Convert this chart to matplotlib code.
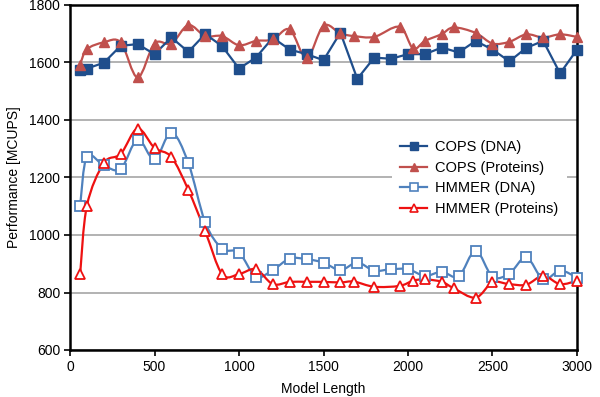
import numpy as np
import matplotlib
matplotlib.use("Agg")
import matplotlib.pyplot as plt
from matplotlib.path import Path
from matplotlib.patches import PathPatch
from matplotlib.lines import Line2D

plt.rcParams['font.family'] = ['Liberation Sans', 'DejaVu Sans']

# ---- data ----
x_dna = [60, 100, 200, 300, 400, 500, 600, 700, 800, 900, 1000, 1100, 1200, 1300, 1400, 1500,
         1600, 1700, 1800, 1900, 2000, 2100, 2200, 2300, 2400, 2500, 2600, 2700, 2800, 2900, 3000]
x_prot = [60, 100, 200, 300, 400, 500, 600, 700, 800, 900, 1000, 1100, 1200, 1300, 1400, 1500,
          1600, 1680, 1800, 1950, 2030, 2100, 2200, 2270, 2400, 2500, 2600, 2700, 2800, 2900, 3000]

cops_dna = [1573, 1579, 1599, 1658, 1664, 1629, 1687, 1637, 1699, 1657, 1579, 1617, 1686, 1645, 1629, 1608,
            1704, 1543, 1617, 1613, 1629, 1629, 1652, 1635, 1675, 1645, 1604, 1651, 1675, 1562, 1645]
cops_prot = [1593, 1646, 1670, 1670, 1548, 1666, 1666, 1730, 1692, 1692, 1660, 1675, 1680, 1715, 1616, 1728,
             1701, 1692, 1689, 1724, 1649, 1675, 1699, 1722, 1703, 1666, 1672, 1698, 1687, 1698, 1689]
hmmer_dna = [1102, 1273, 1242, 1230, 1332, 1263, 1356, 1251, 1044, 953, 939, 855, 878, 918, 916, 904,
             878, 904, 876, 881, 881, 858, 872, 856, 945, 855, 866, 922, 846, 876, 852]
hmmer_prot = [864, 1102, 1250, 1282, 1370, 1303, 1271, 1157, 1013, 864, 864, 881, 829, 837, 837, 837,
              835, 838, 820, 823, 841, 846, 837, 815, 782, 835, 829, 827, 858, 829, 841]

labels = ["COPS (DNA)", "COPS (Proteins)", "HMMER (DNA)", "HMMER (Proteins)"]
xticks = [0, 500, 1000, 1500, 2000, 2500, 3000]
yticks = [600, 800, 1000, 1200, 1400, 1600, 1800]

c_cops_dna = "#1F4E8C"
c_cops_prot = "#C0504D"
c_hmmer_dna = "#4F81BD"
c_hmmer_prot = "#EE1111"


def smooth_path(ax, x, y, color, lw):
    x = np.asarray(x, float)
    y = np.asarray(y, float)
    pts = np.column_stack([x, y])
    n = len(pts)
    verts = [pts[0]]
    codes = [Path.MOVETO]
    for i in range(n - 1):
        p0 = pts[i - 1] if i > 0 else pts[i]
        p1 = pts[i]
        p2 = pts[i + 1]
        p3 = pts[i + 2] if i + 2 < n else pts[i + 1]
        c1 = p1 + (p2 - p0) / 6.0
        c2 = p2 - (p3 - p1) / 6.0
        verts += [c1, c2, p2]
        codes += [Path.CURVE4] * 3
    patch = PathPatch(Path(verts, codes), facecolor='none', edgecolor=color, lw=lw,
                      transform=ax.transData, zorder=3, capstyle='round', joinstyle='round')
    ax.add_patch(patch)


fig = plt.figure(figsize=(6.0, 3.97), dpi=100)
ax = fig.add_axes([70 / 600, 1 - 350 / 397, 507 / 600, 345 / 397])

lw = 1.6
# COPS DNA: straight segments
ax.plot(x_dna, cops_dna, color=c_cops_dna, lw=lw, marker='s', ms=7, mfc=c_cops_dna,
        mec=c_cops_dna, zorder=4, clip_on=False)
# COPS proteins: smoothed
smooth_path(ax, x_prot, cops_prot, c_cops_prot, lw)
ax.plot(x_prot, cops_prot, ls='none', marker='^', ms=7.5, mfc=c_cops_prot, mec=c_cops_prot,
        zorder=4, clip_on=False)
# HMMER DNA
smooth_path(ax, x_dna, hmmer_dna, c_hmmer_dna, lw)
ax.plot(x_dna, hmmer_dna, ls='none', marker='s', ms=7, mfc='white', mec=c_hmmer_dna, mew=1.3,
        zorder=4, clip_on=False)
# HMMER proteins
smooth_path(ax, x_prot, hmmer_prot, c_hmmer_prot, lw)
ax.plot(x_prot, hmmer_prot, ls='none', marker='^', ms=7, mfc='white', mec=c_hmmer_prot, mew=1.3,
        zorder=4, clip_on=False)

ax.set_xlim(0, 3000)
ax.set_ylim(600, 1800)
ax.set_xticks(xticks)
ax.set_yticks(yticks)
ax.tick_params(axis='both', direction='out', length=4, width=1.2, labelsize=10, colors='black', pad=3)
ax.yaxis.grid(True, color='#A6A6A6', lw=1.2)
ax.set_axisbelow(True)
for s in ax.spines.values():
    s.set_linewidth(1.8)
    s.set_color('black')

ax.set_xlabel("Model Length", fontsize=10, labelpad=6)
ax.set_ylabel("Performance [MCUPS]", fontsize=10, labelpad=6)

handles = [
    Line2D([], [], color=c_cops_dna, lw=lw, marker='s', ms=5.5, mfc=c_cops_dna, mec=c_cops_dna),
    Line2D([], [], color=c_cops_prot, lw=lw, marker='^', ms=6, mfc=c_cops_prot, mec=c_cops_prot),
    Line2D([], [], color=c_hmmer_dna, lw=lw, marker='s', ms=5.5, mfc='white', mec=c_hmmer_dna, mew=1.2),
    Line2D([], [], color=c_hmmer_prot, lw=lw, marker='^', ms=6, mfc='white', mec=c_hmmer_prot, mew=1.2),
]
leg = ax.legend(handles, labels, loc='upper left', bbox_to_anchor=(0.62, 0.655), frameon=True,
                fontsize=10.5, handlelength=1.8, handletextpad=0.55, labelspacing=0.45,
                borderpad=0.6, framealpha=1.0)
leg.get_frame().set_edgecolor('white')
leg.get_frame().set_linewidth(0)
leg.get_frame().set_boxstyle('square', pad=0)

fig.savefig("out.png", dpi=100)
